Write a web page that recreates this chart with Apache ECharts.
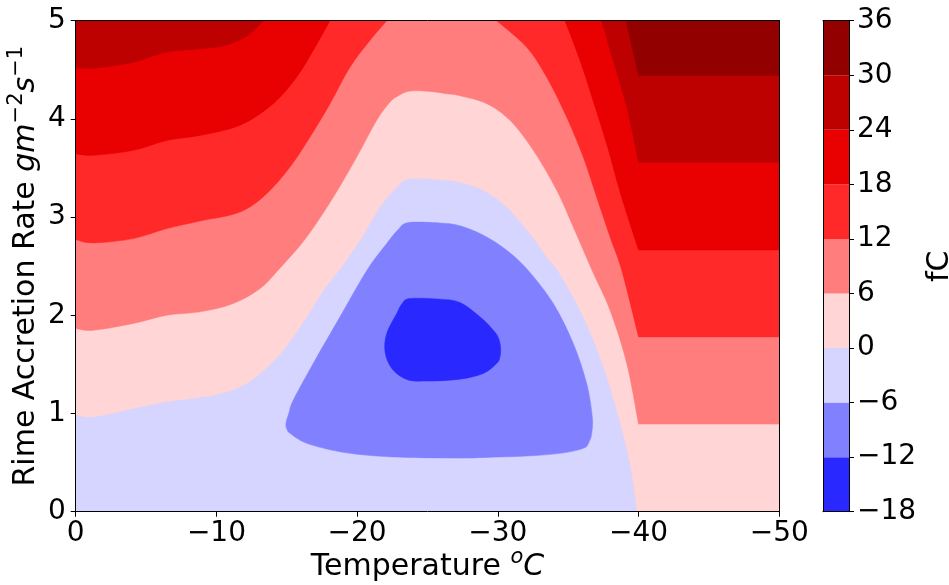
<!DOCTYPE html>
<html><head><meta charset="utf-8">
<script src="https://cdn.jsdelivr.net/npm/echarts@6/dist/echarts.min.js"></script>
<style>html,body{margin:0;padding:0;background:#fff}#c{width:949px;height:585px}</style>
</head><body><div id="c"></div>
<script>
// ---- data ----
const levels = [-18, -12, -6, 0, 6, 12, 18, 24, 30, 36];
const bandColors = ['#2929ff', '#8181ff', '#d5d5ff', '#ffd5d5', '#ff7d7d', '#ff2929', '#e90000', '#bd0000', '#930000'];
const xTicks = [0, -10, -20, -30, -40, -50];
const yTicks = [0, 1, 2, 3, 4, 5];
const tMin = -50, tMax = 0, rMin = 0, rMax = 5;

// contour lines, points [Temperature, Rime rate]
const c0 = [[0,0.991],[-1.25,0.966],[-4.09,1.052],[-6.47,1.119],[-9.78,1.187],[-11.68,1.272],[-13.10,1.408],[-14.75,1.645],[-16.42,1.984],[-17.60,2.255],[-18.71,2.459],[-20.20,2.764],[-21.62,3.103],[-22.81,3.306],[-23.76,3.392],[-25.89,3.380],[-27.31,3.354],[-28.97,3.273],[-30.63,3.103],[-32.28,2.832],[-33.47,2.594],[-34.24,2.459],[-35.84,2.052],[-37.26,1.577],[-38.45,1.035],[-39.39,0.492],[-39.9,0]];
const c6 = [[0,1.866],[-1.25,1.848],[-4.09,1.917],[-6.47,2.001],[-8.83,2.035],[-11.20,2.120],[-13.10,2.273],[-14.38,2.459],[-16.42,2.798],[-18.31,3.204],[-19.97,3.611],[-21.39,3.985],[-22.34,4.171],[-22.9,4.234],[-23.76,4.283],[-25.18,4.280],[-26.37,4.256],[-27.31,4.236],[-29.21,4.155],[-30.86,3.985],[-32.52,3.680],[-34.18,3.273],[-35.36,2.899],[-36.69,2.459],[-37.97,2.052],[-39.16,1.510],[-40,0.892]];
const c12L = [[0,2.771],[-1.25,2.737],[-4.09,2.781],[-6.47,2.883],[-8.83,2.960],[-11.68,3.052],[-13.57,3.239],[-15.23,3.510],[-16.65,3.815],[-18.07,4.155],[-19.49,4.527],[-20.91,4.799],[-22.10,5]];
const c12R = [[-29.92,5],[-32.05,4.730],[-33.47,4.425],[-34.89,4.018],[-36.07,3.611],[-37.02,3.204],[-37.97,2.798],[-38.80,2.459],[-40,1.780]];
const c18L = [[0,3.646],[-1.25,3.629],[-4.09,3.680],[-6.47,3.781],[-8.83,3.832],[-11.68,3.935],[-14.04,4.155],[-15.70,4.425],[-16.88,4.697],[-18.07,5]];
const c18R = [[-34.77,5],[-35.84,4.595],[-36.83,4.158],[-37.76,3.731],[-38.75,3.222],[-40,2.665]];
const c24L = [[0,4.527],[-1.25,4.517],[-4.09,4.578],[-6.47,4.680],[-8.83,4.714],[-10.5,4.745],[-12.0,4.830],[-12.8,4.920],[-13.33,5]];
const c24R = [[-37.38,5],[-38.20,4.593],[-39.16,4.120],[-40,3.558]];
const c30R = [[-39.11,5],[-40,4.443]];
const cm6 = [[-23.64,2.944],[-25.89,2.940],[-27.31,2.911],[-28.97,2.815],[-30.63,2.662],[-32.14,2.459],[-33.94,2.120],[-35.36,1.713],[-36.31,1.306],[-36.71,0.966],[-36.67,0.798],[-36.48,0.710],[-36.07,0.645],[-34.42,0.594],[-32.05,0.567],[-29.21,0.553],[-27.31,0.546],[-23.52,0.553],[-21.15,0.570],[-18.78,0.610],[-16.42,0.696],[-15.23,0.798],[-15.01,0.841],[-14.94,0.899],[-15.15,1.004],[-15.46,1.136],[-16.88,1.510],[-18.78,1.984],[-20.70,2.459],[-22.10,2.730],[-22.9,2.87]];
const cm12 = [[-23.76,2.171],[-25.89,2.164],[-27.31,2.130],[-28.73,1.984],[-29.68,1.848],[-30.05,1.767],[-30.20,1.662],[-30.14,1.569],[-29.92,1.510],[-28.97,1.408],[-27.31,1.350],[-24.94,1.330],[-23.52,1.347],[-22.46,1.459],[-21.98,1.628],[-22.10,1.815],[-22.81,2.018],[-23.2,2.12]];

// ---- filled layers: band index, smooth contour part, straight tail to the frame ----
const TL = [tMax, rMax], TR = [tMin, rMax], BR = [tMin, rMin], BL = [tMax, rMin];
const toRight = c => [tMin, c[c.length - 1][1]];
const regions = [
  { band: 2, curve: [BL], tail: [BR, TR, TL] },
  { band: 3, curve: c0, tail: [BR, TR, TL] },
  { band: 4, curve: c6, tail: [toRight(c6), TR, TL] },
  { band: 5, curve: c12L, tail: [TL] },
  { band: 5, curve: c12R, tail: [toRight(c12R), TR] },
  { band: 6, curve: c18L, tail: [TL] },
  { band: 6, curve: c18R, tail: [toRight(c18R), TR] },
  { band: 7, curve: c24L, tail: [TL] },
  { band: 7, curve: c24R, tail: [toRight(c24R), TR] },
  { band: 8, curve: c30R, tail: [toRight(c30R), TR] },
  { band: 1, curve: cm6, closed: true },
  { band: 0, curve: cm12, closed: true }
];
const cbData = bandColors.map((c, i) => [0, levels[i], levels[i + 1], i]);

// Catmull-Rom -> cubic Bezier path through screen points (rendering only)
function smoothPath(pts, closed) {
  const n = pts.length;
  const P = i => closed ? pts[(i + n) % n] : pts[Math.max(0, Math.min(n - 1, i))];
  let d = 'M' + pts[0][0] + ',' + pts[0][1];
  const segs = closed ? n : n - 1;
  for (let i = 0; i < segs; i++) {
    const p0 = P(i - 1), p1 = P(i), p2 = P(i + 1), p3 = P(i + 2);
    const c1x = p1[0] + (p2[0] - p0[0]) / 6, c1y = p1[1] + (p2[1] - p0[1]) / 6;
    const c2x = p2[0] - (p3[0] - p1[0]) / 6, c2y = p2[1] - (p3[1] - p1[1]) / 6;
    d += ' C' + c1x + ',' + c1y + ' ' + c2x + ',' + c2y + ' ' + p2[0] + ',' + p2[1];
  }
  return d;
}

const FONT = 'DejaVu Sans';
const minus = v => String(v).replace('-', '\u2212');
const lineOnly = (extra) => Object.assign({
  axisLine: { show: true, onZero: false, lineStyle: { color: '#000', width: 1 } },
  axisTick: { show: false }, axisLabel: { show: false }, splitLine: { show: false }, z: 10
}, extra);
const richStyles = {
  n: { fontFamily: FONT, fontSize: 30, color: '#000', lineHeight: 42 },
  it: { fontFamily: FONT, fontSize: 30, fontStyle: 'italic', color: '#000', lineHeight: 42 },
  sup: { fontFamily: FONT, fontSize: 21, color: '#000', lineHeight: 21, verticalAlign: 'top' },
  supi: { fontFamily: FONT, fontSize: 21, fontStyle: 'italic', color: '#000', lineHeight: 21, verticalAlign: 'top' }
};

const chart = echarts.init(document.getElementById('c'), null, { renderer: 'canvas' });
chart.setOption({
  backgroundColor: '#fff',
  animation: false,
  grid: [
    { left: 75.7, right: 949 - 779.3, top: 20.7, bottom: 585 - 511.7, containLabel: false, outerBoundsMode: 'none' },
    { left: 823, right: 949 - 849, top: 20.7, bottom: 585 - 511.7, containLabel: false, outerBoundsMode: 'none' }
  ],
  xAxis: [
    { type: 'value', gridIndex: 0, min: tMin, max: tMax, interval: 10, inverse: true, z: 10,
      name: '{n|Temperature }{supi|o}{it|C}', nameLocation: 'middle', nameGap: 35, nameMoveOverlap: false,
      nameTextStyle: { fontFamily: FONT, fontSize: 30, color: '#000', rich: richStyles },
      axisLine: { show: true, onZero: false, lineStyle: { color: '#000', width: 1 } },
      axisTick: { show: true, length: 5, lineStyle: { color: '#000', width: 1 } },
      axisLabel: { fontFamily: FONT, fontSize: 28, color: '#000', margin: 8, showMinLabel: true, showMaxLabel: true,
        formatter: v => xTicks.includes(v) ? minus(v) : '' },
      splitLine: { show: false } },
    lineOnly({ type: 'value', gridIndex: 0, min: tMin, max: tMax, inverse: true, position: 'top' }),
    lineOnly({ type: 'value', gridIndex: 1, min: 0, max: 1, position: 'bottom' }),
    lineOnly({ type: 'value', gridIndex: 1, min: 0, max: 1, position: 'top' })
  ],
  yAxis: [
    { type: 'value', gridIndex: 0, min: rMin, max: rMax, interval: 1, z: 10,
      name: '{n|Rime Accretion Rate }{it|gm}{sup|\u22122}{it|s}{sup|\u22121}', nameLocation: 'middle', nameGap: 28, nameRotate: 90, nameMoveOverlap: false,
      nameTextStyle: { fontFamily: FONT, fontSize: 30, color: '#000', rich: richStyles },
      axisLine: { show: true, onZero: false, lineStyle: { color: '#000', width: 1 } },
      axisTick: { show: true, length: 5, lineStyle: { color: '#000', width: 1 } },
      axisLabel: { fontFamily: FONT, fontSize: 28, color: '#000', margin: 10, showMinLabel: true, showMaxLabel: true,
        formatter: v => yTicks.includes(v) ? minus(v) : '' },
      splitLine: { show: false } },
    lineOnly({ type: 'value', gridIndex: 0, min: rMin, max: rMax, position: 'right' }),
    { type: 'value', gridIndex: 1, min: levels[0], max: levels[levels.length - 1], interval: 6, position: 'right', z: 10,
      name: 'fC', nameLocation: 'middle', nameGap: 76, nameRotate: 90,
      nameTextStyle: { fontFamily: FONT, fontSize: 30, color: '#000' },
      axisLine: { show: true, onZero: false, lineStyle: { color: '#000', width: 1 } },
      axisTick: { show: true, length: 5, lineStyle: { color: '#000', width: 1 } },
      axisLabel: { fontFamily: FONT, fontSize: 28, color: '#000', margin: 8, showMinLabel: true, showMaxLabel: true,
        formatter: v => minus(v) },
      splitLine: { show: false } },
    lineOnly({ type: 'value', gridIndex: 1, min: levels[0], max: levels[levels.length - 1], position: 'left' })
  ],
  series: [
    { type: 'custom', xAxisIndex: 0, yAxisIndex: 0, clip: true, silent: true,
      data: regions.map((r, i) => [r.curve[0][0], r.curve[0][1], i]),
      renderItem: (params, api) => {
        const r = regions[params.dataIndex];
        const cur = r.curve.map(p => api.coord(p));
        let d;
        if (r.closed) {
          d = smoothPath(cur, true) + ' Z';
        } else {
          d = (cur.length > 1 ? smoothPath(cur, false) : 'M' + cur[0][0] + ',' + cur[0][1]);
          r.tail.forEach(p => { const q = api.coord(p); d += ' L' + q[0] + ',' + q[1]; });
          d += ' Z';
        }
        const col = bandColors[r.band];
        return { type: 'path', shape: { pathData: d },
          style: { fill: col, stroke: col, lineWidth: 0.5 } };
      } },
    { type: 'custom', xAxisIndex: 2, yAxisIndex: 2, silent: true,
      data: cbData,
      renderItem: (params, api) => {
        const a = api.coord([0, api.value(1)]);
        const b = api.coord([1, api.value(2)]);
        const c = bandColors[api.value(3)];
        return { type: 'rect', shape: { x: a[0], y: b[1], width: b[0] - a[0], height: a[1] - b[1] },
          style: { fill: c } };
      } }
  ]
});
</script></body></html>
